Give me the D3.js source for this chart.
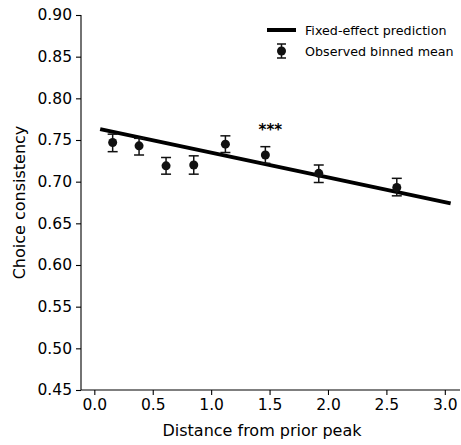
<!DOCTYPE html>
<html>
<head>
<meta charset="utf-8">
<script src="https://cdn.jsdelivr.net/npm/d3@7"></script>
<style>
  html, body { margin: 0; padding: 0; background: #fff; }
  svg { display: block; }
  text { font-family: "DejaVu Sans", sans-serif; fill: #000; }
</style>
</head>
<body>
<svg id="chart" width="461" height="445"></svg>
<script>
// Observed binned means
const binX    = [0.157, 0.383, 0.614, 0.851, 1.122, 1.464, 1.921, 2.589];
const binMean = [0.747, 0.743, 0.719, 0.720, 0.745, 0.732, 0.710, 0.693];
const binLo   = [0.736, 0.732, 0.709, 0.709, 0.735, 0.722, 0.699, 0.683];
const binHi   = [0.757, 0.752, 0.729, 0.731, 0.755, 0.742, 0.720, 0.704];
// Fixed-effect prediction line endpoints
const predX = [0.05, 3.05];
const predY = [0.763, 0.674];
// Ticks
const xTicks = [0.0, 0.5, 1.0, 1.5, 2.0, 2.5, 3.0];
const yTicks = [0.45, 0.50, 0.55, 0.60, 0.65, 0.70, 0.75, 0.80, 0.85, 0.90];
const sigLabel = "***";
const sigAt = [1.464, 0.762];

const svg = d3.select("#chart");
const x = d3.scaleLinear().domain([-0.114, 3.13]).range([81, 460]);
const y = d3.scaleLinear().domain([0.45, 0.90]).range([390, 15]);

// Axes
const xAxis = d3.axisBottom(x).tickValues(xTicks).tickFormat(d3.format(".1f")).tickSize(5).tickPadding(4);
const yAxis = d3.axisLeft(y).tickValues(yTicks).tickFormat(d3.format(".2f")).tickSize(5).tickPadding(4);

const gx = svg.append("g").attr("transform", "translate(0,390)").call(xAxis);
const gy = svg.append("g").attr("transform", "translate(81,0)").call(yAxis);
[gx, gy].forEach(g => {
  g.selectAll("path.domain").attr("stroke", "#000").attr("stroke-width", 1.1)
    .attr("d", g === gx ? "M81,0.5H460" : "M-0.5,390V15");
  g.selectAll(".tick line").attr("stroke", "#000").attr("stroke-width", 1.1);
  g.selectAll(".tick text").style("font-family", "DejaVu Sans").style("font-size", "15.5px").attr("fill", "#000");
});
gy.select("path.domain").attr("d", "M0,390V15");
gx.select("path.domain").attr("d", "M81,0H460");

// Axis labels
svg.append("text").attr("x", 262).attr("y", 436).attr("text-anchor", "middle")
  .style("font-size", "16px").text("Distance from prior peak");
svg.append("text").attr("transform", "translate(25,202.5) rotate(-90)").attr("text-anchor", "middle")
  .style("font-size", "16px").text("Choice consistency");

// Prediction line
svg.append("line")
  .attr("x1", x(predX[0])).attr("y1", y(predY[0]))
  .attr("x2", x(predX[1])).attr("y2", y(predY[1]))
  .attr("stroke", "#000").attr("stroke-width", 4);

// Error bars + points
const color = "#111";
const g = svg.append("g");
binX.forEach((bx, i) => {
  const cx = x(bx);
  g.append("line").attr("x1", cx).attr("x2", cx).attr("y1", y(binLo[i])).attr("y2", y(binHi[i]))
    .attr("stroke", color).attr("stroke-width", 1.5);
  [binLo[i], binHi[i]].forEach(v => {
    g.append("line").attr("x1", cx - 5).attr("x2", cx + 5).attr("y1", y(v)).attr("y2", y(v))
      .attr("stroke", color).attr("stroke-width", 1.5);
  });
  g.append("circle").attr("cx", cx).attr("cy", y(binMean[i])).attr("r", 4.5).attr("fill", color);
});

// Significance
svg.append("text").attr("x", x(sigAt[0]) + 5).attr("y", y(sigAt[1]) + 5).attr("text-anchor", "middle")
  .style("font-size", "15px").style("font-weight", "bold").text(sigLabel);

// Legend
const lg = svg.append("g");
lg.append("line").attr("x1", 267).attr("x2", 296).attr("y1", 30).attr("y2", 30)
  .attr("stroke", "#000").attr("stroke-width", 4);
lg.append("text").attr("x", 305).attr("y", 34.5).style("font-size", "12.7px").text("Fixed-effect prediction");
lg.append("line").attr("x1", 281.5).attr("x2", 281.5).attr("y1", 44).attr("y2", 58).attr("stroke", color).attr("stroke-width", 1.5);
[44, 58].forEach(v => lg.append("line").attr("x1", 277).attr("x2", 286).attr("y1", v).attr("y2", v).attr("stroke", color).attr("stroke-width", 1.5));
lg.append("circle").attr("cx", 281.5).attr("cy", 51).attr("r", 4.5).attr("fill", color);
lg.append("text").attr("x", 305).attr("y", 55.5).style("font-size", "12.7px").text("Observed binned mean");
</script>
</body>
</html>
